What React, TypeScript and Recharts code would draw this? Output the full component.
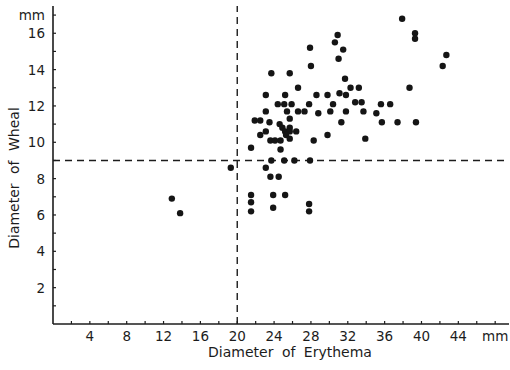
import {
  ReferenceLine,
  Scatter,
  ScatterChart,
  XAxis,
  YAxis,
} from "recharts";

// erythema diameter (mm) for each patient
const erythema = [
  37.9, 39.3, 39.3, 30.9, 30.6, 31.5, 31.0, 27.9, 28.0, 42.7,
  42.3, 23.7, 25.7, 31.7, 26.6, 32.3, 33.2, 38.7, 23.1, 25.2,
  28.6, 29.8, 31.1, 31.8, 24.4, 25.1, 25.9, 27.8, 30.4, 32.8,
  33.5, 35.6, 36.6, 23.1, 25.4, 26.6, 27.3, 28.8, 30.1, 31.8,
  33.7, 35.1, 21.9, 22.5, 23.5, 25.7, 31.3, 35.7, 37.4, 39.4,
  24.6, 24.9, 25.7, 22.5, 23.1, 25.2, 25.7, 26.4, 25.3, 25.7,
  29.8, 23.6, 24.1, 24.7, 28.3, 33.9, 21.5, 24.7, 23.7, 25.1,
  26.2, 27.9, 23.1, 23.6, 24.5, 19.3, 12.9, 13.8, 21.5, 21.5,
  21.5, 23.9, 25.2, 23.9, 27.8, 27.8,
];

// wheal diameter (mm), same order as above
const wheal = [
  16.8, 16.0, 15.7, 15.9, 15.5, 15.1, 14.6, 15.2, 14.2, 14.8,
  14.2, 13.8, 13.8, 13.5, 13.0, 13.0, 13.0, 13.0, 12.6, 12.6,
  12.6, 12.6, 12.7, 12.6, 12.1, 12.1, 12.1, 12.1, 12.1, 12.2,
  12.2, 12.1, 12.1, 11.7, 11.7, 11.7, 11.7, 11.6, 11.7, 11.7,
  11.7, 11.6, 11.2, 11.2, 11.1, 11.3, 11.1, 11.1, 11.1, 11.1,
  11.0, 10.8, 10.8, 10.4, 10.6, 10.6, 10.6, 10.6, 10.4, 10.2,
  10.4, 10.1, 10.1, 10.1, 10.1, 10.2, 9.7, 9.6, 9.0, 9.0,
  9.0, 9.0, 8.6, 8.1, 8.1, 8.6, 6.9, 6.1, 7.1, 6.7,
  6.2, 7.1, 7.1, 6.4, 6.6, 6.2,
];

const erythemaTicks = [
  2, 4, 6, 8, 10, 12, 14, 16, 18, 20, 22, 24,
  26, 28, 30, 32, 34, 36, 38, 40, 42, 44, 46, 48,
];
const erythemaLabels: Record<number, string> = {
  4: "4", 8: "8", 12: "12", 16: "16", 20: "20", 24: "24",
  28: "28", 32: "32", 36: "36", 40: "40", 44: "44", 48: "mm",
};

const whealTicks = [
  1, 2, 3, 4, 5, 6, 7, 8, 9, 10, 11, 12, 13, 14, 15, 16, 17,
];
const whealLabels: Record<number, string> = {
  2: "2", 4: "4", 6: "6", 8: "8", 10: "10",
  12: "12", 14: "14", 16: "16", 17: "mm",
};

const erythemaCutoff = 20;
const whealCutoff = 9;

const points = erythema.map((x, i) => ({
  x,
  y: wheal[i],
}));

const INK = "#1c1c1c";
const FONT = "'DejaVu Sans', sans-serif";

function BottomTick({
  x,
  y,
  payload,
}: any) {
  const label =
    erythemaLabels[payload.value] ?? "";
  return (
    <g>
      <line
        x1={x}
        x2={x}
        y1={y}
        y2={y - 3}
        stroke={INK}
        strokeWidth={1.2}
      />
      {label && (
        <text
          x={x}
          y={y + 17}
          textAnchor="middle"
          fill={INK}
          fontSize={13.5}
          fontFamily={FONT}
        >
          {label}
        </text>
      )}
    </g>
  );
}

function LeftTick({
  x,
  y,
  payload,
}: any) {
  const label =
    whealLabels[payload.value] ?? "";
  return (
    <g>
      <line
        x1={x}
        x2={x + 3}
        y1={y}
        y2={y}
        stroke={INK}
        strokeWidth={1.2}
      />
      {label && (
        <text
          x={x - 8}
          y={y + 5}
          textAnchor="end"
          fill={INK}
          fontSize={13.5}
          fontFamily={FONT}
        >
          {label}
        </text>
      )}
    </g>
  );
}

function Dot({ cx, cy }: any) {
  return (
    <circle
      cx={cx}
      cy={cy}
      r={3.2}
      fill="#151515"
    />
  );
}

export default function App() {
  return (
    <div
      style={{
        position: "relative",
        width: 510,
        height: 370,
        background: "#ffffff",
      }}
    >
      <style>{"body{margin:0}"}</style>
      <ScatterChart
        width={510}
        height={370}
        margin={{
          top: 6,
          right: 1,
          bottom: 0,
          left: 0,
        }}
      >
        <XAxis
          type="number"
          dataKey="x"
          domain={[0, 49.5]}
          ticks={erythemaTicks}
          interval={0}
          height={46}
          tickSize={0}
          tickMargin={0}
          tickLine={false}
          axisLine={{
            stroke: INK,
            strokeWidth: 1.6,
          }}
          tick={<BottomTick />}
        />

        <YAxis
          type="number"
          dataKey="y"
          domain={[0, 17.5]}
          ticks={whealTicks}
          interval={0}
          width={53}
          tickSize={0}
          tickMargin={0}
          tickLine={false}
          axisLine={{
            stroke: INK,
            strokeWidth: 1.6,
          }}
          tick={<LeftTick />}
        />

        <ReferenceLine
          x={erythemaCutoff}
          stroke={INK}
          strokeWidth={1.4}
          strokeDasharray="7 5"
        />

        <ReferenceLine
          y={whealCutoff}
          stroke={INK}
          strokeWidth={1.4}
          strokeDasharray="7 5"
        />

        <Scatter
          data={points}
          shape={<Dot />}
          isAnimationActive={false}
        />

        <text
          x={290}
          y={357}
          textAnchor="middle"
          fill={INK}
          fontSize={14}
          fontFamily={FONT}
          wordSpacing={4}
        >
          Diameter of Erythema
        </text>

        <text
          x={19}
          y={178}
          transform="rotate(-90 19 178)"
          textAnchor="middle"
          fill={INK}
          fontSize={14}
          fontFamily={FONT}
          wordSpacing={5}
        >
          Diameter of Wheal
        </text>
      </ScatterChart>
    </div>
  );
}
